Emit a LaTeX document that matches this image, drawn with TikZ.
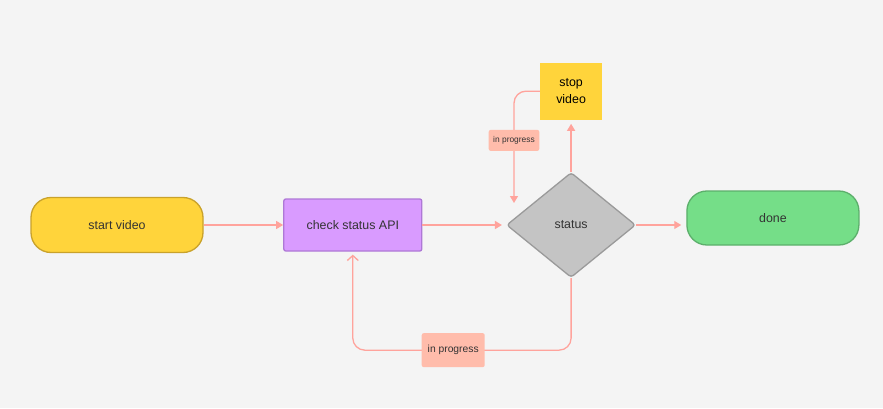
\documentclass[tikz,border=0pt]{standalone}
\usepackage{fontspec}
\setmainfont{Liberation Sans}
\usetikzlibrary{positioning,shapes.geometric,arrows.meta}
\definecolor{bg}{HTML}{F4F4F4}
\definecolor{flowline}{HTML}{FFA39C}
\definecolor{tagfill}{HTML}{FFBCAB}
\definecolor{txt}{HTML}{333333}
\definecolor{yel}{HTML}{FFD43B}
\definecolor{yelline}{HTML}{C9A22B}
\definecolor{lila}{HTML}{D99BFF}
\definecolor{lilaline}{HTML}{AE78D6}
\definecolor{grn}{HTML}{75DE88}
\definecolor{grnline}{HTML}{5CAF6B}
\definecolor{gry}{HTML}{C4C4C4}
\definecolor{gryline}{HTML}{9A9A9A}

\tikzset{
    pill/.style={rounded corners=20pt, line width=1.3pt, minimum width=172pt, minimum height=55pt},
    flow/.style={draw=flowline, line width=1.3pt, -{Triangle[length=7pt,width=8pt]}},
    flowback/.style={draw=flowline, line width=1.3pt, -{Straight Barb[length=5pt,width=11pt]}},
    tag/.style={fill=tagfill, rounded corners=2pt, text=txt},
}

\begin{document}
\begin{tikzpicture}[font=\fontsize{12.4}{15}\selectfont, text=txt]
    \fill[bg] (0,0) rectangle (883pt,408pt);

    \node[pill, fill=yel, draw=yelline] (start) at (117pt,183pt) {start video};
    \node[right=79.5pt of start, fill=lila, draw=lilaline, line width=1.3pt, rounded corners=2pt,
          minimum width=138pt, minimum height=52pt] (check) {check status API};
    \node[diamond, right=83.5pt of check, fill=gry, draw=gryline, line width=1.3pt, rounded corners=3pt,
          aspect=1.23, inner sep=0pt, minimum width=129pt, minimum height=105pt] (status) {status};
    \node[pill, right=50pt of status, yshift=7pt, fill=grn, draw=grnline, minimum height=54pt] (done) {done};
    \node[above=52pt of status, fill=yel, minimum width=62pt, minimum height=57pt, align=center,
          font=\fontsize{12.4}{17}\selectfont, text=black] (stop) {stop\\video};
    \coordinate (hit) at (514pt,205pt);

    \draw[flow] (start) -- (check);
    \draw[flow, shorten >=4pt] (check) -- (status);
    \draw[flow, shorten >=5pt] (status.east) -- (status.east -| done.west);
    \draw[flow, shorten >=4pt] (status.north) -- (stop.south);
    \draw[flow, rounded corners=12pt] (stop.west) -| node[tag, pos=0.72, inner xsep=4.5pt, minimum height=21pt,
          font=\fontsize{8.4}{10}\selectfont] {in progress} (hit);
    \draw[flowback, rounded corners=12pt, shorten >=3pt] (status.south) -- ++(0,-72pt) -| node[tag, pos=0.27,
          inner xsep=6pt, minimum height=34pt, font=\fontsize{10.3}{12}\selectfont] {in progress} (check.south);
\end{tikzpicture}
\end{document}
